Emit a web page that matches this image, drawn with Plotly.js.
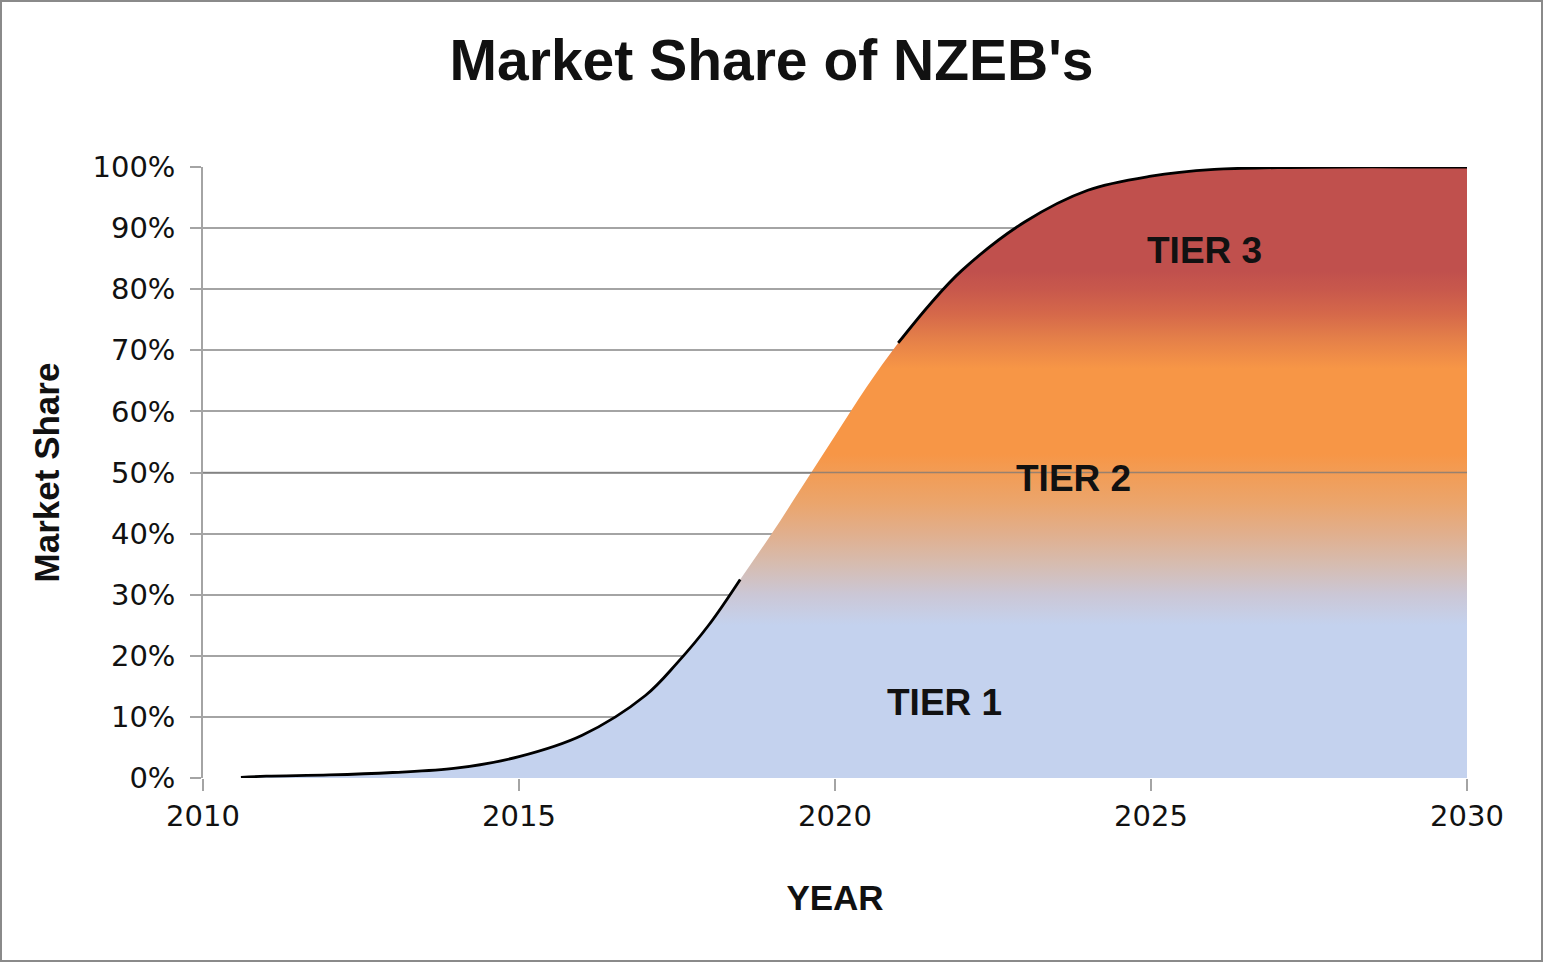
<!DOCTYPE html>
<html>
<head>
<meta charset="utf-8">
<script src="https://cdn.plot.ly/plotly-3.0.1.min.js"></script>
<style>
  html, body { margin: 0; padding: 0; background: #fff; }
  #frame { width: 1543px; height: 962px; box-sizing: border-box; border: 2px solid #8a8a8a; overflow: hidden; }
  #chart { width: 1539px; height: 958px; }
</style>
</head>
<body>
<div id="frame"><div id="chart"></div></div>
<script>
// ---- data ----
const years = [2010.6, 2011, 2012, 2013, 2014, 2015, 2016, 2017, 2017.5, 2018, 2018.5, 2019, 2019.5,
               2020, 2020.5, 2021, 2021.5, 2022, 2023, 2024, 2025, 2026, 2027, 2028, 2029, 2030];
const share = [0.001, 0.003, 0.005, 0.009, 0.016, 0.035, 0.07, 0.135, 0.188, 0.25, 0.325, 0.40, 0.48,
               0.56, 0.64, 0.712, 0.775, 0.83, 0.91, 0.962, 0.985, 0.996, 0.999, 1.0, 1.0, 1.0];
const yTickVals = [0, 0.1, 0.2, 0.3, 0.4, 0.5, 0.6, 0.7, 0.8, 0.9, 1.0];
const xTickVals = [2010, 2015, 2020, 2025, 2030];
const tierLabels = ['TIER 1', 'TIER 2', 'TIER 3'];
const tierX = [2021.74, 2023.78, 2025.85];
const tierY = [0.123, 0.491, 0.864];

// outline is visible only in the tier 1 and tier 3 parts of the curve (as in the reference)
const outline = share.map(v => (v > 0.33 && v < 0.70) ? null : v);

const grid = '#a4a4a4';
const fillTrace = {
  x: years, y: share, type: 'scatter', mode: 'lines',
  line: { width: 0, shape: 'spline', color: 'rgba(0,0,0,0)' },
  fill: 'tozeroy',
  fillgradient: {
    type: 'vertical', start: 0, stop: 1,
    colorscale: [
      [0.00, '#c4d2ee'], [0.25, '#c4d2ee'], [0.30, '#cbc7d6'], [0.35, '#d6bcb0'],
      [0.40, '#e1af8d'], [0.45, '#eba56c'], [0.50, '#f29c55'], [0.53, '#f79646'],
      [0.67, '#f79646'], [0.72, '#e47f49'], [0.76, '#d5684a'], [0.80, '#c8584c'],
      [0.83, '#c0504d'], [1.00, '#c0504d']
    ]
  },
  hoverinfo: 'skip', showlegend: false
};
const lineTrace = {
  x: years, y: outline, type: 'scatter', mode: 'lines',
  line: { color: '#000', width: 2.8, shape: 'spline' },
  connectgaps: false, cliponaxis: false,
  hovertemplate: '%{x}: %{y:.0%}<extra></extra>', showlegend: false
};

const textFont = { family: 'Liberation Sans, Arial, sans-serif', color: '#111' };
const annotations = tierLabels.map((t, i) => ({
  x: tierX[i], y: tierY[i], xref: 'x', yref: 'y', text: '<b>' + t + '</b>',
  showarrow: false, xanchor: 'center', yanchor: 'middle',
  font: Object.assign({ size: 37 }, textFont)
}));

const layout = {
  width: 1539, height: 958,
  margin: { l: 201, r: 74, t: 165, b: 182 },
  paper_bgcolor: '#fff', plot_bgcolor: '#fff',
  title: {
    text: "<b>Market Share of NZEB's</b>",
    x: 0.5, xref: 'container', xanchor: 'center',
    y: 0.9395, yref: 'container', yanchor: 'middle',
    font: Object.assign({ size: 57 }, textFont)
  },
  xaxis: {
    range: [2010, 2030], tickvals: xTickVals, ticktext: xTickVals.map(String),
    showgrid: false, zeroline: false, showline: false,
    ticks: 'outside', ticklen: 12, tickwidth: 1.5, tickcolor: grid,
    ticklabelstandoff: 0,
    tickfont: { family: 'DejaVu Sans, sans-serif', size: 29, color: '#111' },
    title: { text: '<b>YEAR</b>', standoff: 53, font: Object.assign({ size: 35 }, textFont) }
  },
  yaxis: {
    range: [0, 1], tickvals: yTickVals, tickformat: '.0%',
    showgrid: true, gridcolor: grid, gridwidth: 1.5,
    zeroline: false, showline: true, linecolor: grid, linewidth: 1.5,
    ticks: 'outside', ticklen: 11, tickwidth: 1.5, tickcolor: grid,
    ticklabelstandoff: 9,
    tickfont: { family: 'DejaVu Sans, sans-serif', size: 29, color: '#111' },
    title: { text: '<b>Market Share</b>', standoff: 22, font: Object.assign({ size: 35 }, textFont) }
  },
  shapes: [{
    type: 'line', xref: 'paper', yref: 'y', x0: 0, x1: 1, y0: 0.5, y1: 0.5,
    layer: 'above', line: { color: 'rgba(120,120,120,0.75)', width: 1.5 }
  }],
  annotations: annotations
};

Plotly.newPlot('chart', [fillTrace, lineTrace], layout, { displayModeBar: false });
</script>
</body>
</html>
